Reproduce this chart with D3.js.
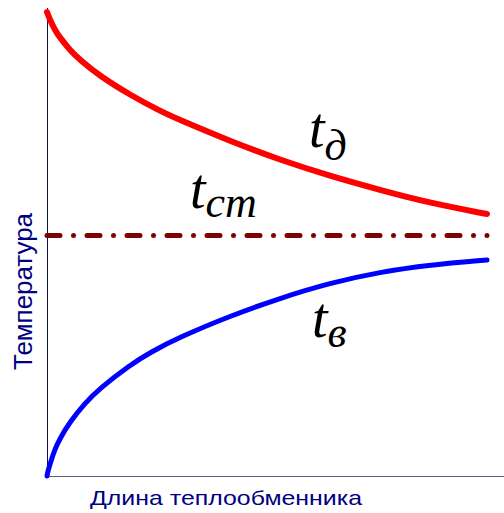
<!DOCTYPE html>
<html><head><meta charset="utf-8">
<script src="https://cdn.jsdelivr.net/npm/d3@7"></script>
<style>html,body{margin:0;padding:0;background:#fff;}svg{display:block;}</style>
</head><body>
<script>
// Length along the exchanger (0..10) and temperature (0..100, arbitrary units)
const lengthRed = [0, 0.068, 0.18, 0.30, 0.52, 0.75, 1.2, 1.89, 2.57, 3.02, 4.16, 5.3, 6.43, 7.57, 8.7, 10];
const tempRed   = [99.15, 97.44, 95.30, 93.59, 91.03, 88.89, 85.47, 81.41, 77.99, 76.07, 71.58, 67.52, 64.10, 61.11, 58.33, 55.98];
const lengthBlue = [0, 0.023, 0.068, 0.18, 0.30, 0.52, 0.86, 1.2, 1.89, 2.34, 3.02, 4.16, 5.3, 6.43, 7.57, 8.7, 10];
const tempBlue   = [0, 1.07, 2.56, 5.77, 8.12, 11.54, 15.53, 18.74, 23.74, 26.39, 29.70, 34.19, 38.03, 41.24, 43.59, 45.09, 46.15];
const lengthWall = [0, 10];
const tempWall   = [51.4, 51.4];
const xLabel = "Длина теплообменника";
const yLabel = "Температура";

const W = 504, H = 513;
const svg = d3.select("body").append("svg").attr("width", W).attr("height", H);

const x = d3.scaleLinear().domain([0, 10]).range([47, 487]);
const y = d3.scaleLinear().domain([0, 100]).range([476, 8]);

// axes
svg.append("line").attr("x1", 47.5).attr("x2", 47.5).attr("y1", 8).attr("y2", 477)
  .attr("stroke", "#10104a").attr("stroke-width", 1);
svg.append("line").attr("x1", 47).attr("x2", 504).attr("y1", 476.5).attr("y2", 476.5)
  .attr("stroke", "#5c5c8e").attr("stroke-width", 1);

const line = d3.line().x(d => x(d[0])).y(d => y(d[1])).curve(d3.curveBasis);

svg.append("path").datum(d3.zip(lengthWall, tempWall)).attr("d", d3.line().x(d => x(d[0])).y(d => y(d[1])))
  .attr("fill", "none").attr("stroke", "#800000").attr("stroke-width", 5)
  .attr("stroke-linecap", "round").attr("stroke-dasharray", "13,13.5,0.01,13.49");

svg.append("path").datum(d3.zip(lengthRed, tempRed)).attr("d", line)
  .attr("fill", "none").attr("stroke", "#ff0000").attr("stroke-width", 6)
  .attr("stroke-linecap", "round");

svg.append("path").datum(d3.zip(lengthBlue, tempBlue)).attr("d", line)
  .attr("fill", "none").attr("stroke", "#0000ff").attr("stroke-width", 5)
  .attr("stroke-linecap", "round");

// curve labels
function lbl(px, py, sub, dy) {
  const t = svg.append("text").attr("x", px).attr("y", py)
    .attr("font-family", "'Liberation Serif','Times New Roman',serif")
    .attr("font-style", "italic").attr("fill", "#000");
  t.append("tspan").attr("font-size", 56).text("t");
  t.append("tspan").attr("font-size", 44).attr("dy", dy).text(sub);
}
lbl(309, 147, "д", 13);
lbl(190, 208, "ст", 9);
lbl(312, 337, "в", 10);

// axis titles
svg.append("text").attr("x", 90).attr("y", 505)
  .attr("font-family", "'Liberation Sans',Arial,sans-serif").attr("font-size", 21)
  .attr("fill", "#000080").attr("textLength", 272).attr("lengthAdjust", "spacingAndGlyphs")
  .text(xLabel);
svg.append("text").attr("transform", "translate(32,370) rotate(-90)")
  .attr("font-family", "'Liberation Sans',Arial,sans-serif").attr("font-size", 25)
  .attr("fill", "#000080").attr("textLength", 157).attr("lengthAdjust", "spacingAndGlyphs")
  .text(yLabel);
</script>
</body></html>
